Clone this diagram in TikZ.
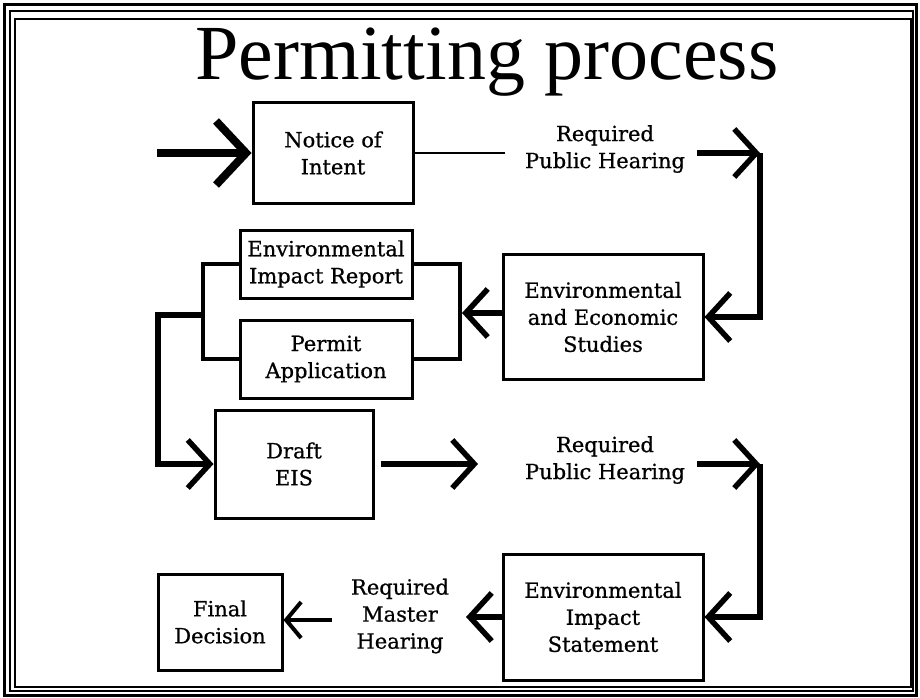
\documentclass[tikz,border=0pt]{standalone}
\usepackage{fontspec}
\setmainfont{Liberation Serif}
\newfontfamily\boxfont{DejaVu Serif}[BoldFont={DejaVu Serif},BoldFeatures={FakeBold=0.7}]
\usetikzlibrary{arrows.meta}
\begin{document}
\begin{tikzpicture}[x=1pt,y=-1pt,
  stepbox/.style={draw, line width=3pt, font=\boxfont\bfseries\fontsize{21}{27}\selectfont, align=center, inner sep=0pt},
  lbl/.style={font=\boxfont\bfseries\fontsize{21}{27}\selectfont, align=center, inner sep=0pt},
  conn/.style={line width=5.5pt, -{Straight Barb[length=22pt,width=48pt]}},
  bigconn/.style={line width=8pt, -{Straight Barb[length=30pt,width=64pt]}},
  smallconn/.style={line width=4pt, -{Straight Barb[length=15pt,width=36pt]}},
  plain/.style={line width=4.5pt}]
\useasboundingbox (0,0) rectangle (920,698);
\fill[white] (0,0) rectangle (920,698);
% frame
\draw[line width=3pt] (4,5) rectangle (916,695);
\draw[line width=2pt] (10,11) rectangle (913,691);
\draw[line width=1.2pt] (15,19) rectangle (911,687);
% title
\node[font=\fontsize{78}{80}\selectfont, inner sep=0pt] (title) at (487,62) {Permitting process};
% boxes
\node[stepbox, minimum width=160pt, minimum height=100pt] (noi) at (333,153) {Notice of\\Intent};
\node[lbl] (rph1) at (605,149) {Required\\Public Hearing};
\node[stepbox, minimum width=200pt, minimum height=125pt] (ees) at (603,317) {Environmental\\and Economic\\Studies};
\node[stepbox, minimum width=172pt, minimum height=68pt] (eir) at (326,264) {Environmental\\Impact Report};
\node[stepbox, minimum width=172pt, minimum height=78pt] (pa) at (326,359) {Permit\\Application};
\node[stepbox, minimum width=158pt, minimum height=108pt] (dei) at (294,464) {Draft\\EIS};
\node[lbl] (rph2) at (605,460) {Required\\Public Hearing};
\node[stepbox, minimum width=200pt, minimum height=126pt] (eis) at (603,617) {Environmental\\Impact\\Statement};
\node[lbl] (rmh) at (400,616) {Required\\Master\\Hearing};
\node[stepbox, minimum width=124pt, minimum height=96pt] (fd) at (220,622) {Final\\Decision};
% helper coordinates
\coordinate (start) at (157,153);
\coordinate (t1) at (505,153);
\coordinate (a1s) at (697,153);
\coordinate (c1) at (760,153);
\coordinate (lb) at (203,315);
\coordinate (rb) at (460,313);
\coordinate (rbt) at (462,313);
\coordinate (l1) at (158,315);
\coordinate (a2s) at (697,464);
\coordinate (c2) at (760,464);
\coordinate (a3e) at (478,464);
\coordinate (a4e) at (466,617);
\coordinate (a5s) at (332,620);
% connectors
\draw[bigconn] (start) -- (noi.west);
\draw[line width=2pt] (noi.east) -- (t1);
\draw[conn] (a1s) -- (c1);
\draw[conn] (c1) |- (ees.east);
\draw[conn] (ees.west |- rbt) -- (rbt);
\draw[plain] (eir.east) -| (rb) |- (pa.east);
\draw[plain] (eir.west) -| (lb) |- (pa.west);
\draw[conn] (lb) -- (l1) |- (dei.west);
\draw[conn, shorten <=6pt] (dei.east) -- (a3e);
\draw[conn] (a2s) -- (c2);
\draw[conn] (c2) |- (eis.east);
\draw[conn] (eis.west) -- (a4e);
\draw[smallconn] (a5s) -- (fd.east |- a5s);
\end{tikzpicture}
\end{document}
